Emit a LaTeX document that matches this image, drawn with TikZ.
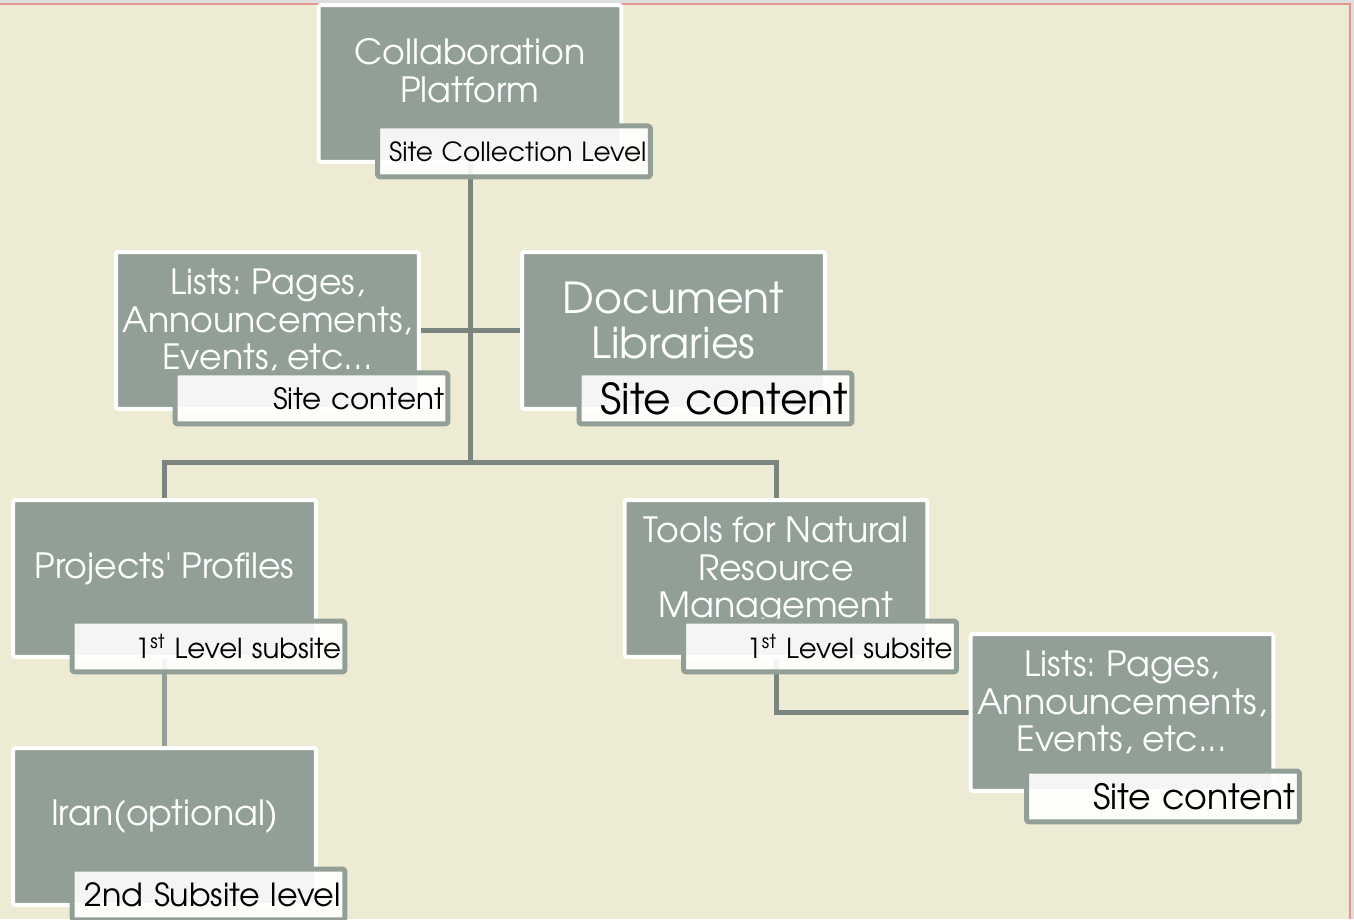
\documentclass[tikz,border=0pt]{standalone}
\usepackage{fontspec}
\setmainfont{TeX Gyre Adventor}
\frenchspacing
\usetikzlibrary{backgrounds,positioning}
\definecolor{paper}{HTML}{EDEBD3}
\definecolor{boxgray}{HTML}{919F96}
\definecolor{linegray}{HTML}{7A8580}
\definecolor{edgepink}{HTML}{E5968A}
\tikzset{
  sitebox/.style={draw=white, line width=0.08cm, fill=boxgray, rounded corners=1pt,
    minimum width=6.06cm, minimum height=3.14cm},
  boxtext/.style={text=white, align=center, font=\fontsize{19.8}{21.5}\selectfont},
  levelbox/.style={draw=boxgray, line width=0.1cm, fill=white, fill opacity=0.9, text opacity=1,
    rounded corners=1.5pt, minimum width=5.46cm, minimum height=1.02cm, text width=5.3cm,
    align=right, inner xsep=0.05cm, font=\fontsize{15}{18}\selectfont,
    anchor=south east, xshift=0.59cm, yshift=-0.31cm},
  link/.style={draw=linegray, line width=0.1cm}
}
\begin{document}
\begin{tikzpicture}[x=0.02cm, y=-0.02cm, line join=round]
    \useasboundingbox (0,0) rectangle (1354,919);
    % main boxes
    \node[sitebox] (cp) at (470,83.5) {};
    \node[boxtext] (cp-t) at ([yshift=0.26cm]cp.center) {Collaboration\\Platform};
    \node[levelbox] (cp-l) at (cp.south east) {Site Collection Level};

    \node[sitebox] (ll) at (267.5,330.5) {};
    \node[boxtext] (ll-t) at ([yshift=0.2cm]ll.center) {Lists: Pages,\\Announcements,\\Events, etc...};
    \node[levelbox, font=\fontsize{16.7}{19}\selectfont] (ll-l) at (ll.south east) {Site content};

    \node[sitebox] (dl) at (673.5,330.5) {};
    \node[boxtext, font=\fontsize{24.3}{26}\selectfont] (dl-t) at ([yshift=0.2cm]dl.center) {Document\\Libraries};
    \node[levelbox, font=\fontsize{24.2}{26}\selectfont, xshift=-0.04cm] (dl-l) at (dl.south east) {Site content};

    \node[sitebox] (pp) at (164.5,578.5) {};
    \node[boxtext] (pp-t) at ([yshift=0.2cm]pp.center) {Projects\textquotesingle\ Profiles};
    \node[levelbox, font=\fontsize{15.7}{18}\selectfont] (pp-l) at (pp.south east) {1\textsuperscript{st} Level subsite};

    \node[sitebox] (tn) at (776,578.5) {};
    \node[boxtext] (tn-t) at ([yshift=0.15cm]tn.center) {Tools for Natural\\Resource\\Management};
    \node[levelbox, font=\fontsize{15.7}{18}\selectfont] (tn-l) at (tn.south east) {1\textsuperscript{st} Level subsite};

    \node[sitebox] (ir) at (164.5,826.5) {};
    \node[boxtext] (ir-t) at ([yshift=0.2cm]ir.center) {Iran(optional)};
    \node[levelbox, font=\fontsize{18.1}{20}\selectfont] (ir-l) at (ir.south east) {2nd Subsite level};

    \node[sitebox] (lr) at (1122,712.5) {};
    \node[boxtext] (lr-t) at ([yshift=0.2cm]lr.center) {Lists: Pages,\\Announcements,\\Events, etc...};
    \node[levelbox, font=\fontsize{19.8}{22}\selectfont, xshift=-0.06cm, yshift=-0.32cm] (lr-l) at (lr.south east) {Site content};

    \begin{scope}[on background layer]
        \fill[paper] (0,0) rectangle (1354,919);
        \fill[black!13] (0,0) rectangle (1354,3);
        \fill[black!13] (1351,0) rectangle (1354,919);
        \draw[edgepink, line width=0.04cm] (0,4) -- (1350,4) -- (1350,919);
        % connectors
        \coordinate (bus) at (470,462);
        \draw[link] (cp.center) -- (bus);
        \draw[link] (ll.east) -- (dl.west);
        \draw[link] (pp.north) |- (bus) -| (tn.north);
        \draw[link, draw=boxgray] (pp.center) -- (ir.center);
        \draw[link] (tn.center) |- (lr.west);
    \end{scope}
\end{tikzpicture}
\end{document}
